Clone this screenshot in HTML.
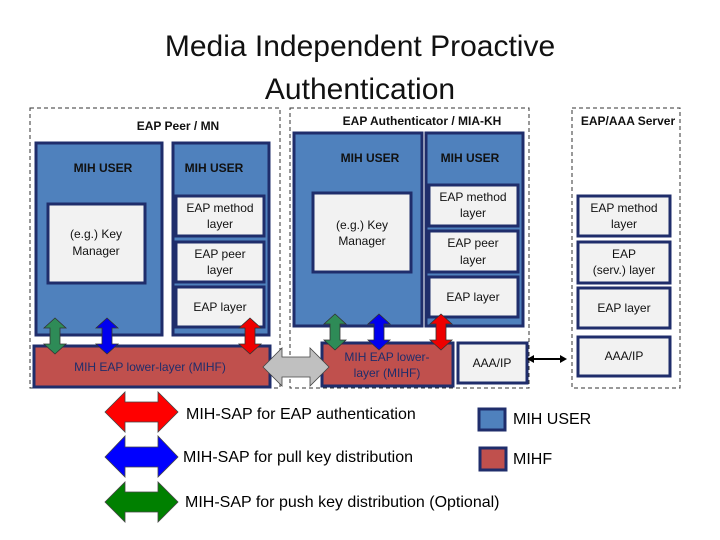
<!DOCTYPE html>
<html><head><meta charset="utf-8"><style>html,body{margin:0;padding:0;background:#fff}svg{display:block}</style></head>
<body>
<svg width="720" height="540" xmlns="http://www.w3.org/2000/svg" font-family="Liberation Sans, sans-serif">
<rect width="720" height="540" fill="#fff"/>
<text x="360" y="56" font-size="30" text-anchor="middle" fill="#111">Media Independent Proactive</text>
<text x="360" y="99" font-size="30" text-anchor="middle" fill="#111">Authentication</text>

<g fill="none" stroke="#333" stroke-width="1" stroke-dasharray="4,3">
<rect x="30" y="108" width="250" height="280"/>
<rect x="290" y="108" width="239" height="280"/>
<rect x="572" y="108" width="108" height="280"/>
</g>
<g font-size="12" font-weight="bold" fill="#111" text-anchor="middle">
<text x="178" y="130">EAP Peer / MN</text>
<text x="422" y="125">EAP Authenticator / MIA-KH</text>
<text x="628" y="125">EAP/AAA Server</text>
</g>

<g stroke="#1f2d6b" stroke-width="3">
<rect x="36" y="143" width="126" height="192" fill="#4f81bd"/>
<rect x="173" y="143" width="96" height="192" fill="#4f81bd"/>
<rect x="294" y="133" width="128" height="193" fill="#4f81bd"/>
<rect x="426" y="133" width="97" height="193" fill="#4f81bd"/>
<g fill="#f2f2f2">
<rect x="48" y="204" width="97" height="79"/>
<rect x="176" y="196" width="88" height="40"/>
<rect x="176" y="242" width="88" height="40"/>
<rect x="176" y="287" width="88" height="40"/>
<rect x="313" y="193" width="98" height="79"/>
<rect x="429" y="185" width="89" height="41"/>
<rect x="429" y="231" width="89" height="41"/>
<rect x="429" y="277" width="89" height="40"/>
<rect x="578" y="196" width="92" height="40"/>
<rect x="578" y="242" width="92" height="41"/>
<rect x="578" y="288" width="92" height="40"/>
<rect x="578" y="337" width="92" height="39"/>
<rect x="458" y="343" width="69" height="40"/>
</g>
<rect x="34" y="346" width="236" height="41" fill="#c0504d"/>
<rect x="322" y="343" width="131" height="43" fill="#c0504d"/>
</g>

<g font-size="12" font-weight="bold" fill="#111" text-anchor="middle">
<text x="103" y="172">MIH USER</text>
<text x="214" y="172">MIH USER</text>
<text x="370" y="162">MIH USER</text>
<text x="470" y="162">MIH USER</text>
</g>
<g font-size="12" fill="#111" text-anchor="middle">
<text x="96" y="238">(e.g.) Key</text><text x="96" y="255">Manager</text>
<text x="220" y="212">EAP method</text><text x="220" y="228">layer</text>
<text x="220" y="258">EAP peer</text><text x="220" y="274">layer</text>
<text x="220" y="311">EAP layer</text>
<text x="362" y="229">(e.g.) Key</text><text x="362" y="245">Manager</text>
<text x="473" y="201">EAP method</text><text x="473" y="217">layer</text>
<text x="473" y="247">EAP peer</text><text x="473" y="264">layer</text>
<text x="473" y="301">EAP layer</text>
<text x="624" y="212">EAP method</text><text x="624" y="228">layer</text>
<text x="624" y="258">EAP</text><text x="624" y="274">(serv.) layer</text>
<text x="624" y="312">EAP layer</text>
<text x="624" y="360">AAA/IP</text>
<text x="492" y="367">AAA/IP</text>
<text x="150" y="371" fill="#1f2d6b">MIH EAP lower-layer (MIHF)</text>
<text x="387" y="361" fill="#1f2d6b">MIH EAP lower-</text>
<text x="387" y="377" fill="#1f2d6b">layer (MIHF)</text>
</g>

<defs>
<polygon id="va" points="0,-18 11,-8 5,-8 5,8 11,8 0,18 -11,8 -5,8 -5,-8 -11,-8"/>
</defs>
<g stroke="#333" stroke-width="0.8">
<use href="#va" x="55" y="336" fill="#2e8b57"/>
<use href="#va" x="107" y="336" fill="#0000ee"/>
<use href="#va" x="250" y="336" fill="#ee0000"/>
<use href="#va" x="335" y="332" fill="#2e8b57"/>
<use href="#va" x="379" y="332" fill="#0000ee"/>
<use href="#va" x="441" y="332" fill="#ee0000"/>
<polygon points="263,367 282,348 282,357 310,357 310,348 329,367 310,386 310,377 282,377 282,386" fill="#c0c0c0" stroke="#444"/>
</g>
<line x1="528" y1="359" x2="562" y2="359" stroke="#000" stroke-width="2"/>
<polygon points="567,359 560,355 560,363" fill="#000"/>
<polygon points="527,359 534,355 534,363" fill="#000"/>

<g stroke="#444" stroke-width="0.8">
<polygon points="105,412 125,392 125,402 158,402 158,392 178,412 158,432 158,422 125,422 125,432" fill="#ff0000"/>
<polygon points="105,457 125,436 125,447 158,447 158,436 178,457 158,477 158,467 125,467 125,477" fill="#0000ff"/>
<polygon points="105,502 125,482 125,492 158,492 158,482 178,502 158,522 158,512 125,512 125,522" fill="#008000"/>
</g>
<g font-size="16" fill="#000">
<text x="186" y="419">MIH-SAP for EAP authentication</text>
<text x="183" y="462">MIH-SAP for pull key distribution</text>
<text x="185" y="507">MIH-SAP for push key distribution (Optional)</text>
<text x="513" y="424">MIH USER</text>
<text x="513" y="464">MIHF</text>
</g>
<rect x="479" y="409" width="26" height="21" fill="#4f81bd" stroke="#1f2d6b" stroke-width="3"/>
<rect x="480" y="448" width="26" height="22" fill="#c0504d" stroke="#1f2d6b" stroke-width="3"/>
</svg>
</body></html>
